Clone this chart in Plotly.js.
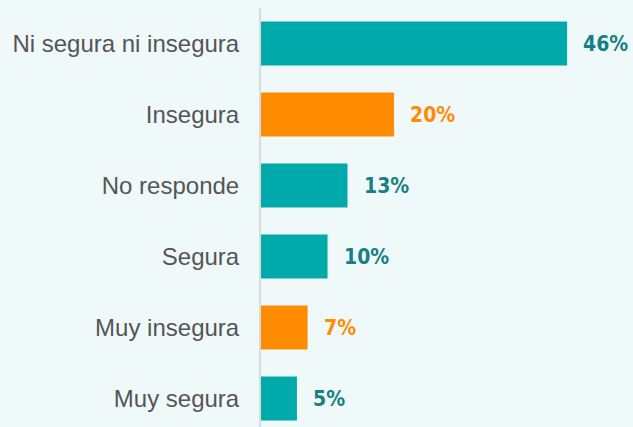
<!DOCTYPE html>
<html><head><meta charset="utf-8">
<script src="https://cdn.plot.ly/plotly-3.0.1.min.js"></script>
<style>html,body{margin:0;padding:0;background:#f0f9fa;}</style>
</head><body><div id="chart" style="width:633px;height:427px;"></div>
<script>
const categories = ["Ni segura ni insegura","Insegura","No responde","Segura","Muy insegura","Muy segura"];
const values = [46,20,13,10,7,5.4];
const labels = ["46%","20%","13%","10%","7%","5%"];
const barColors = ["#00a9aa","#ff8c00","#00a9aa","#00a9aa","#ff8c00","#00a9aa"];
const labelColors = ["#168082","#ff8c00","#168082","#168082","#ff8c00","#168082"];

const trace = {
  type: "bar", orientation: "h",
  x: values, y: categories,
  marker: {color: barColors},
  width: 0.62,
  hoverinfo: "none"
};
const annotations = values.map((v,i) => ({
  x: v, y: categories[i], xref: "x", yref: "y",
  text: "<b>" + labels[i] + "</b>", showarrow: false,
  xanchor: "left", xshift: 14,
  font: {family: "DejaVu Sans Condensed, DejaVu Sans", size: 21, color: labelColors[i]}
}));
const layout = {
  width: 633, height: 427,
  margin: {l: 261, r: 0, t: 8, b: 0},
  paper_bgcolor: "#f0f9fa", plot_bgcolor: "#f0f9fa",
  showlegend: false,
  xaxis: {range: [0, 55.9], showgrid: false, zeroline: false, showticklabels: false, showline: false},
  yaxis: {type: "category", categoryarray: categories, range: [5.40, -0.5],
    showgrid: false, zeroline: false, showline: true, linecolor: "#d9dcdc", linewidth: 2,
    ticks: "outside", ticklen: 15, tickcolor: "rgba(0,0,0,0)",
    tickfont: {family: "Liberation Sans, Arial", size: 24, color: "#555555"}},
  annotations: annotations
};
Plotly.newPlot("chart", [trace], layout, {displayModeBar: false, staticPlot: true});
</script></body></html>
